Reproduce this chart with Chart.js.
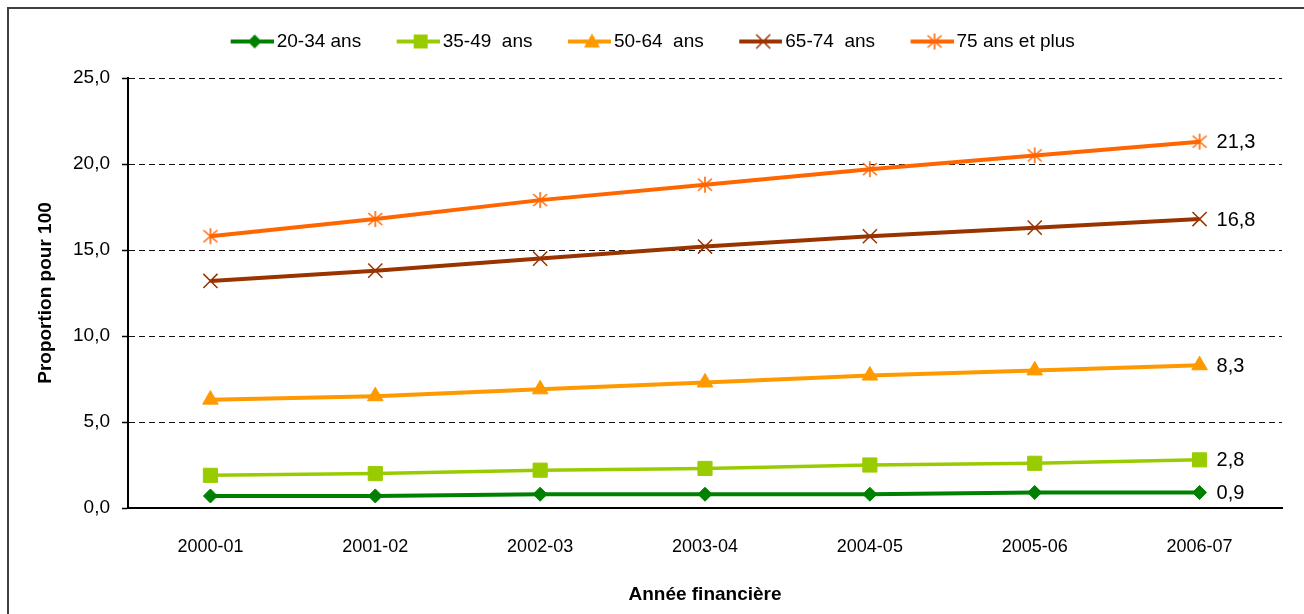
<!DOCTYPE html>
<html>
<head>
<meta charset="utf-8">
<script src="https://cdn.jsdelivr.net/npm/chart.js@4.4.0/dist/chart.umd.min.js"></script>
<style>
  html, body { margin: 0; padding: 0; background: #fff; overflow: hidden; }
</style>
</head>
<body>
<canvas id="lineChart" width="1304" height="614"></canvas>
<script>
const years = ['2000-01', '2001-02', '2002-03', '2003-04', '2004-05', '2005-06', '2006-07'];
const ages20to34 = [0.7, 0.7, 0.8, 0.8, 0.8, 0.9, 0.9];
const ages35to49 = [1.9, 2.0, 2.2, 2.3, 2.5, 2.6, 2.8];
const ages50to64 = [6.3, 6.5, 6.9, 7.3, 7.7, 8.0, 8.3];
const ages65to74 = [13.2, 13.8, 14.5, 15.2, 15.8, 16.3, 16.8];
const ages75plus = [15.8, 16.8, 17.9, 18.8, 19.7, 20.5, 21.3];
const seriesNames = ['20-34 ans', '35-49  ans', '50-64  ans', '65-74  ans', '75 ans et plus'];
const yMin = 0, yMax = 25, yStep = 5;

const FONT = 'Liberation Sans, Arial, sans-serif';
const fmt = v => v.toFixed(1).replace('.', ',');

// draws one marker shape on a small canvas context
function drawMarker(ctx, kind, color, x, y) {
  ctx.fillStyle = color;
  ctx.strokeStyle = color;
  ctx.beginPath();
  if (kind === 'diamond') {
    ctx.moveTo(x - 7, y); ctx.lineTo(x, y - 7); ctx.lineTo(x + 7, y); ctx.lineTo(x, y + 7);
    ctx.closePath(); ctx.fill();
  } else if (kind === 'square') {
    ctx.rect(x - 7, y - 7, 14, 14); ctx.fill();
  } else if (kind === 'triangle') {
    ctx.moveTo(x, y - 8); ctx.lineTo(x + 8, y + 6); ctx.lineTo(x - 8, y + 6);
    ctx.closePath(); ctx.fill();
  } else if (kind === 'x') {
    ctx.lineWidth = 1.5;
    ctx.moveTo(x - 7, y - 7); ctx.lineTo(x + 7, y + 7);
    ctx.moveTo(x + 7, y - 7); ctx.lineTo(x - 7, y + 7);
    ctx.stroke();
  } else if (kind === 'star') {
    ctx.lineWidth = 1.6;
    ctx.moveTo(x - 7, y - 6); ctx.lineTo(x + 7, y + 6);
    ctx.moveTo(x + 7, y - 6); ctx.lineTo(x - 7, y + 6);
    ctx.moveTo(x, y - 8); ctx.lineTo(x, y + 8);
    ctx.stroke();
  }
}

function starImage(color) {
  const c = document.createElement('canvas');
  c.width = 18; c.height = 18;
  drawMarker(c.getContext('2d'), 'star', color, 9, 9);
  return c;
}

// legend icon: line + marker, wider than the legend box so the line reaches close to the text
function legendIcon(kind, color, lw) {
  const c = document.createElement('canvas');
  c.width = 53; c.height = 20;
  const ctx = c.getContext('2d');
  ctx.strokeStyle = color;
  ctx.lineWidth = lw;
  ctx.beginPath();
  ctx.moveTo(10, 10); ctx.lineTo(53, 10);
  ctx.stroke();
  drawMarker(ctx, kind, color, 34, 10);
  return c;
}

const colors = ['#008000', '#99CC00', '#FF9900', '#993300', '#FF6600'];
const kinds = ['diamond', 'square', 'triangle', 'x', 'star'];
const legendIcons = kinds.map((k, i) => legendIcon(k, colors[i], 4));

const frame = {
  id: 'frame',
  beforeDraw(chart) {
    const ctx = chart.ctx;
    ctx.save();
    ctx.fillStyle = '#fff';
    ctx.fillRect(0, 0, chart.width, chart.height);
    ctx.strokeStyle = '#404040';
    ctx.lineWidth = 2;
    ctx.strokeRect(8, 8, 1400, 700);
    ctx.restore();
  }
};

const endLabels = {
  id: 'endLabels',
  afterDatasetsDraw(chart) {
    const ctx = chart.ctx;
    ctx.save();
    ctx.font = '20px ' + FONT;
    ctx.fillStyle = '#000';
    ctx.textAlign = 'left';
    ctx.textBaseline = 'middle';
    chart.data.datasets.forEach((ds, i) => {
      const pts = chart.getDatasetMeta(i).data;
      const last = pts[pts.length - 1];
      ctx.fillText(fmt(ds.data[ds.data.length - 1]), last.x + 17, last.y + 1);
    });
    ctx.restore();
  }
};

const mk = (label, data, color, style, radius, width) => ({
  label: label,
  data: data,
  borderColor: color,
  backgroundColor: color,
  borderWidth: width,
  pointStyle: style,
  pointRadius: radius,
  pointHoverRadius: radius,
  pointBorderWidth: style === 'crossRot' ? 1.5 : 1,
  pointBackgroundColor: color,
  pointBorderColor: color,
  tension: 0
});

new Chart(document.getElementById('lineChart').getContext('2d'), {
  type: 'line',
  data: {
    labels: years,
    datasets: [
      mk(seriesNames[0], ages20to34, colors[0], 'rectRot', 7, 4),
      mk(seriesNames[1], ages35to49, colors[1], 'rect', 10, 3.5),
      mk(seriesNames[2], ages50to64, colors[2], 'triangle', 9, 4),
      mk(seriesNames[3], ages65to74, colors[3], 'crossRot', 10, 4),
      mk(seriesNames[4], ages75plus, colors[4], starImage(colors[4]), 9, 4)
    ]
  },
  options: {
    responsive: false,
    animation: false,
    devicePixelRatio: 1,
    layout: { padding: { left: 20, right: 22, top: 0, bottom: 0 } },
    plugins: {
      legend: {
        position: 'top',
        weight: 1000,
        labels: {
          usePointStyle: true,
          pointStyleWidth: 40,
          padding: 32,
          color: '#000',
          font: { family: FONT, size: 19 },
          generateLabels: chart => chart.data.datasets.map((ds, i) => ({
            text: ds.label,
            pointStyle: legendIcons[i],
            datasetIndex: i,
            lineWidth: 0,
            strokeStyle: 'transparent',
            fillStyle: 'transparent',
            hidden: false
          }))
        }
      },
      // empty title used as spacing between legend and plot
      title: {
        display: true,
        text: '',
        position: 'top',
        weight: 500,
        font: { size: 10, lineHeight: 1 },
        padding: { top: 7, bottom: 0 }
      },
      tooltip: { enabled: false }
    },
    scales: {
      x: {
        offset: true,
        grid: { display: false, drawTicks: false },
        border: { display: true, color: '#000', width: 2 },
        ticks: { color: '#000', padding: 28, font: { family: FONT, size: 18 }, maxRotation: 0 },
        title: {
          display: true,
          text: 'Année financière',
          color: '#000',
          font: { family: FONT, size: 19, weight: 'bold' },
          padding: { top: 0, bottom: 8 }
        },
        afterFit: s => { s.height = 106; }
      },
      y: {
        min: yMin,
        max: yMax,
        grid: {
          color: '#111',
          lineWidth: 1,
          drawTicks: true,
          tickLength: 6,
          tickColor: '#000',
          tickWidth: 1.5,
          tickBorderDash: []
        },
        border: { display: true, color: '#000', width: 2, dash: [6, 4] },
        ticks: {
          stepSize: yStep,
          color: '#000',
          padding: 12,
          font: { family: FONT, size: 19 },
          callback: v => fmt(v)
        },
        title: {
          display: true,
          text: 'Proportion pour 100',
          color: '#000',
          font: { family: FONT, size: 19, weight: 'bold' },
          padding: { top: 14, bottom: 0 }
        },
        afterFit: s => { s.width = 108; }
      }
    }
  },
  plugins: [frame, endLabels]
});
</script>
</body>
</html>
